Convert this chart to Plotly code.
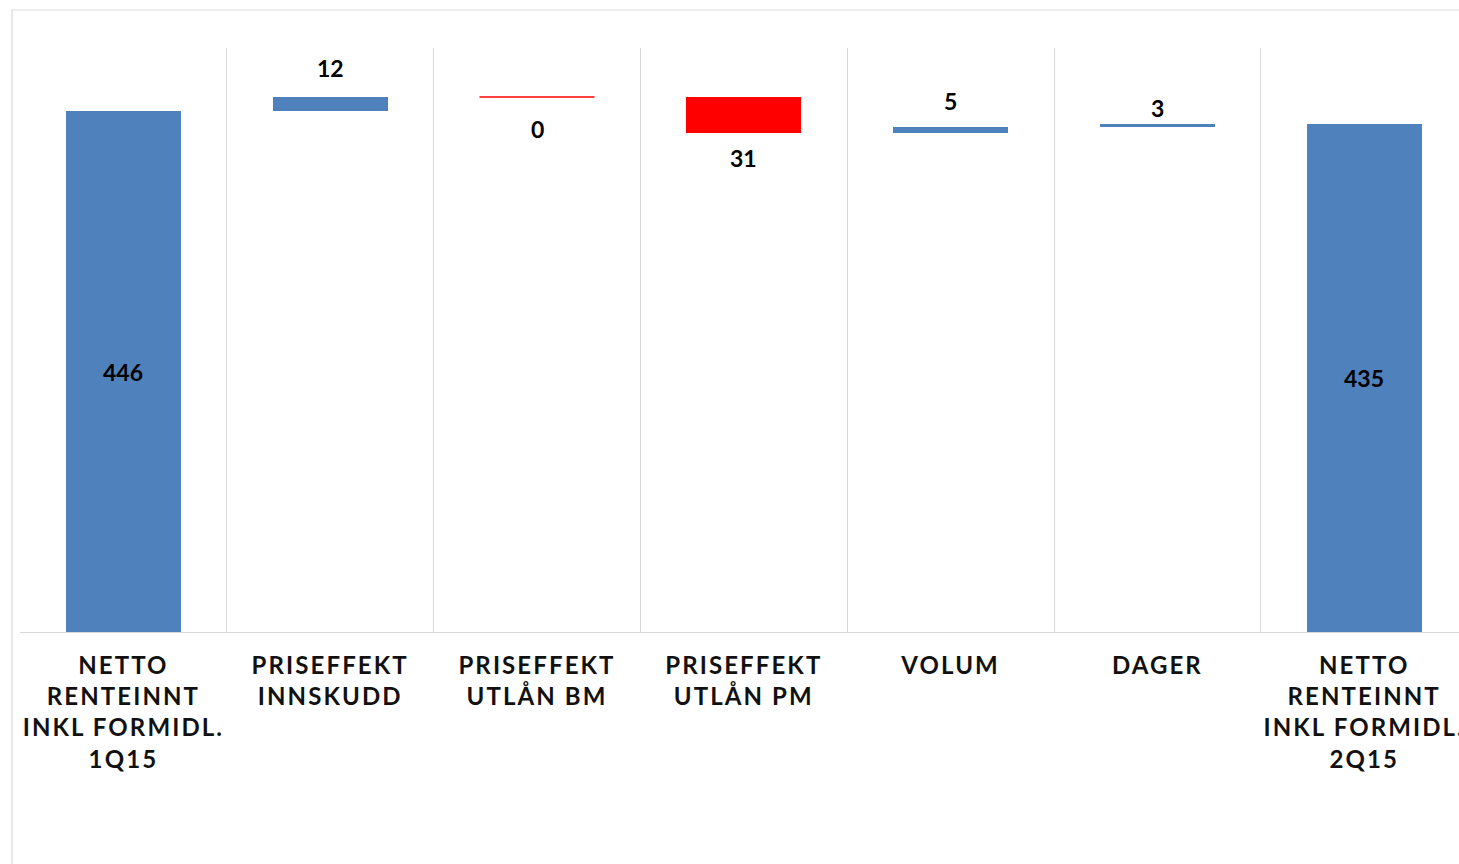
import plotly.graph_objects as go

# ---- data ----
categories = [
    "NETTO<br>RENTEINNT<br>INKL FORMIDL.<br>1Q15",
    "PRISEFFEKT<br>INNSKUDD",
    "PRISEFFEKT<br>UTLÅN BM",
    "PRISEFFEKT<br>UTLÅN PM",
    "VOLUM",
    "DAGER",
    "NETTO<br>RENTEINNT<br>INKL FORMIDL.<br>2Q15",
]
values = [446, 12, 0, -31, 5, 3, 435]
measures = ["total", "relative", "relative", "relative", "relative", "relative", "total"]
labels = ["446", "12", "0", "31", "5", "3", "435"]

# ---- style ----
BLUE = "#4F81BD"
RED = "#FF0000"
bar_colors = [BLUE, BLUE, RED, RED, BLUE, BLUE, BLUE]
label_shift = [0, 29, -32, -25, 26, 16, 0]   # px offsets of value labels
GRID = "#d9d9d9"
FONT = "Lato"
BAR_W = 0.556

W, H = 1459, 864
ML, MR, MT, MB = 20, 0, 48, 232

# ---- waterfall geometry from data ----
idx = list(range(len(categories)))
bases, heights = [], []
running = 0
for v, m in zip(values, measures):
    if m == "total":
        bases.append(0)
        heights.append(v)
        running = v
    else:
        bases.append(running)
        heights.append(v)
        running += v

fig = go.Figure()
fig.add_trace(go.Bar(
    x=idx, y=heights, base=bases, width=BAR_W,
    marker=dict(color=bar_colors, line=dict(width=0)),
    hoverinfo="skip", showlegend=False,
))

# zero-change items drawn as a thin line at their level
for i, (v, m) in enumerate(zip(values, measures)):
    if m == "relative" and v == 0:
        fig.add_trace(go.Scatter(
            x=[i - BAR_W / 2, i + BAR_W / 2], y=[bases[i], bases[i]],
            mode="lines", line=dict(color=bar_colors[i], width=1.5),
            hoverinfo="skip", showlegend=False,
        ))

# value labels
for i, (v, m) in enumerate(zip(values, measures)):
    if m == "total":
        y = bases[i] + heights[i] / 2
    else:
        y = bases[i] + heights[i]
    fig.add_annotation(
        x=i, y=y, text=labels[i], showarrow=False,
        xanchor="center", yanchor="middle", yshift=label_shift[i],
        font=dict(family=FONT, size=23, color="#000000", weight=700),
    )

plot_w = W - ML - MR
plot_h = H - MT - MB
# outer light frame of chart area
fig.add_shape(
    type="rect", xref="paper", yref="paper",
    x0=(12 - ML) / plot_w, x1=(W + 20 - ML) / plot_w,
    y0=-(MB + 20) / plot_h, y1=(H - MB - 10) / plot_h,
    line=dict(color=GRID, width=1.2), fillcolor="rgba(0,0,0,0)", layer="below",
)

unit_px = 206.8
fig.update_layout(
    width=W, height=H,
    margin=dict(l=ML, r=MR, t=MT, b=MB, autoexpand=False),
    paper_bgcolor="white", plot_bgcolor="white",
    bargap=0,
    xaxis=dict(
        range=[-0.5, -0.5 + plot_w / unit_px],
        tickmode="array", tickvals=idx, ticktext=categories,
        showgrid=False, zeroline=False,
        showline=True, linecolor=GRID, linewidth=1.2,
        ticks="", ticklabelstandoff=12,
        tickfont=dict(family=FONT, size=24, color="#111111", weight=700),
        minor=dict(tickvals=[i - 0.5 for i in range(len(categories) + 1)],
                   showgrid=True, gridcolor=GRID, gridwidth=1.2, ticks=""),
        automargin=False, fixedrange=True,
    ),
    yaxis=dict(range=[0, 500], visible=False, fixedrange=True),
)

post = """
document.body.style.margin = '0';
document.body.style.overflow = 'hidden';
var gd = document.getElementById('{plot_id}');
function ls(){
  gd.querySelectorAll('.xtick text').forEach(function(t){ t.style.letterSpacing = '2.1px'; });
}
ls();
gd.on('plotly_afterplot', ls);
"""
fig.write_html("out.html", post_script=post, config={"displayModeBar": False})
